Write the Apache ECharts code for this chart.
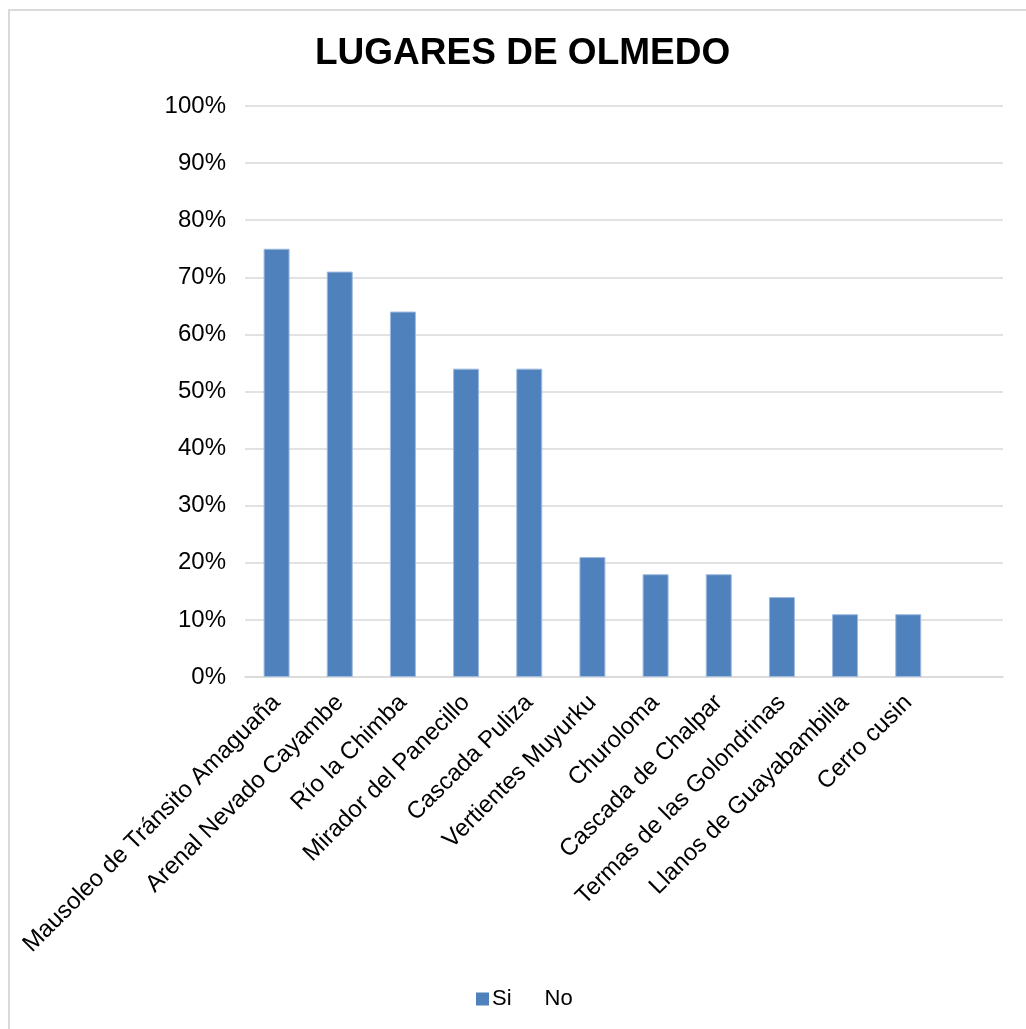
<!DOCTYPE html>
<html>
<head>
<meta charset="utf-8">
<script src="https://cdn.jsdelivr.net/npm/echarts@6/dist/echarts.min.js"></script>
<style>
  html, body { margin: 0; padding: 0; background: #ffffff; }
  #chart { width: 1026px; height: 1029px; }
</style>
</head>
<body>
<div id="chart"></div>
<script>
// Places visited in Olmedo and share of "Si" answers (percent)
const categories = [
  'Mausoleo de Tránsito Amaguaña',
  'Arenal Nevado Cayambe',
  'Río la Chimba',
  'Mirador del Panecillo',
  'Cascada Puliza',
  'Vertientes Muyurku',
  'Churoloma',
  'Cascada de Chalpar',
  'Termas de las Golondrinas',
  'Llanos de Guayabambilla',
  'Cerro cusin',
  ''
];
const siValues = [75, 71, 64, 54, 54, 21, 18, 18, 14, 11, 11, null];
const noValues = [null, null, null, null, null, null, null, null, null, null, null, null];
const yTicks = [0, 10, 20, 30, 40, 50, 60, 70, 80, 90, 100];

const FONT = '"Liberation Sans", Arial, sans-serif';
const chart = echarts.init(document.getElementById('chart'), null, { renderer: 'canvas' });

chart.setOption({
  animation: false,
  backgroundColor: '#ffffff',
  graphic: [{
    type: 'rect',
    shape: { x: 9, y: 10, width: 1040, height: 1040 },
    style: { fill: 'none', stroke: '#d9d9d9', lineWidth: 2 },
    silent: true
  }],
  title: {
    text: 'LUGARES DE OLMEDO',
    left: 315,
    top: 35,
    padding: 0,
    textStyle: { fontFamily: FONT, fontSize: 37, fontWeight: 'bold', color: '#000000' }
  },
  legend: {
    left: 476,
    top: 988,
    padding: 0,
    itemWidth: 13,
    itemHeight: 13,
    itemGap: 17,
    itemStyle: { borderWidth: 0 },
    textStyle: { fontFamily: FONT, fontSize: 22, color: '#000000', padding: [0, 0, 0, -2] },
    data: [
      { name: 'Si', icon: 'rect' },
      { name: 'No', icon: 'none' }
    ]
  },
  grid: { left: 245, right: 23, top: 106, bottom: 352, containLabel: false },
  xAxis: {
    type: 'category',
    data: categories,
    axisLine: { show: true, lineStyle: { color: '#d9d9d9', width: 1.5 } },
    axisTick: { show: false },
    axisLabel: {
      interval: 0,
      rotate: 45,
      margin: 22,
      fontFamily: FONT,
      fontSize: 24,
      color: '#000000'
    }
  },
  yAxis: {
    type: 'value',
    min: yTicks[0],
    max: yTicks[yTicks.length - 1],
    interval: 10,
    axisLine: { show: false },
    axisTick: { show: false },
    splitLine: { lineStyle: { color: '#d9d9d9', width: 1.5 } },
    axisLabel: {
      margin: 19,
      fontFamily: FONT,
      fontSize: 24,
      color: '#000000',
      formatter: v => v + '%'
    }
  },
  series: [
    {
      name: 'Si',
      type: 'bar',
      data: siValues,
      barWidth: 26,
      barGap: '-100%',
      itemStyle: { color: '#4f81bd', borderColor: '#9fbbe0', borderWidth: 1 }
    },
    {
      name: 'No',
      type: 'bar',
      data: noValues,
      barWidth: 26,
      itemStyle: { color: 'transparent' }
    }
  ]
});
</script>
</body>
</html>
